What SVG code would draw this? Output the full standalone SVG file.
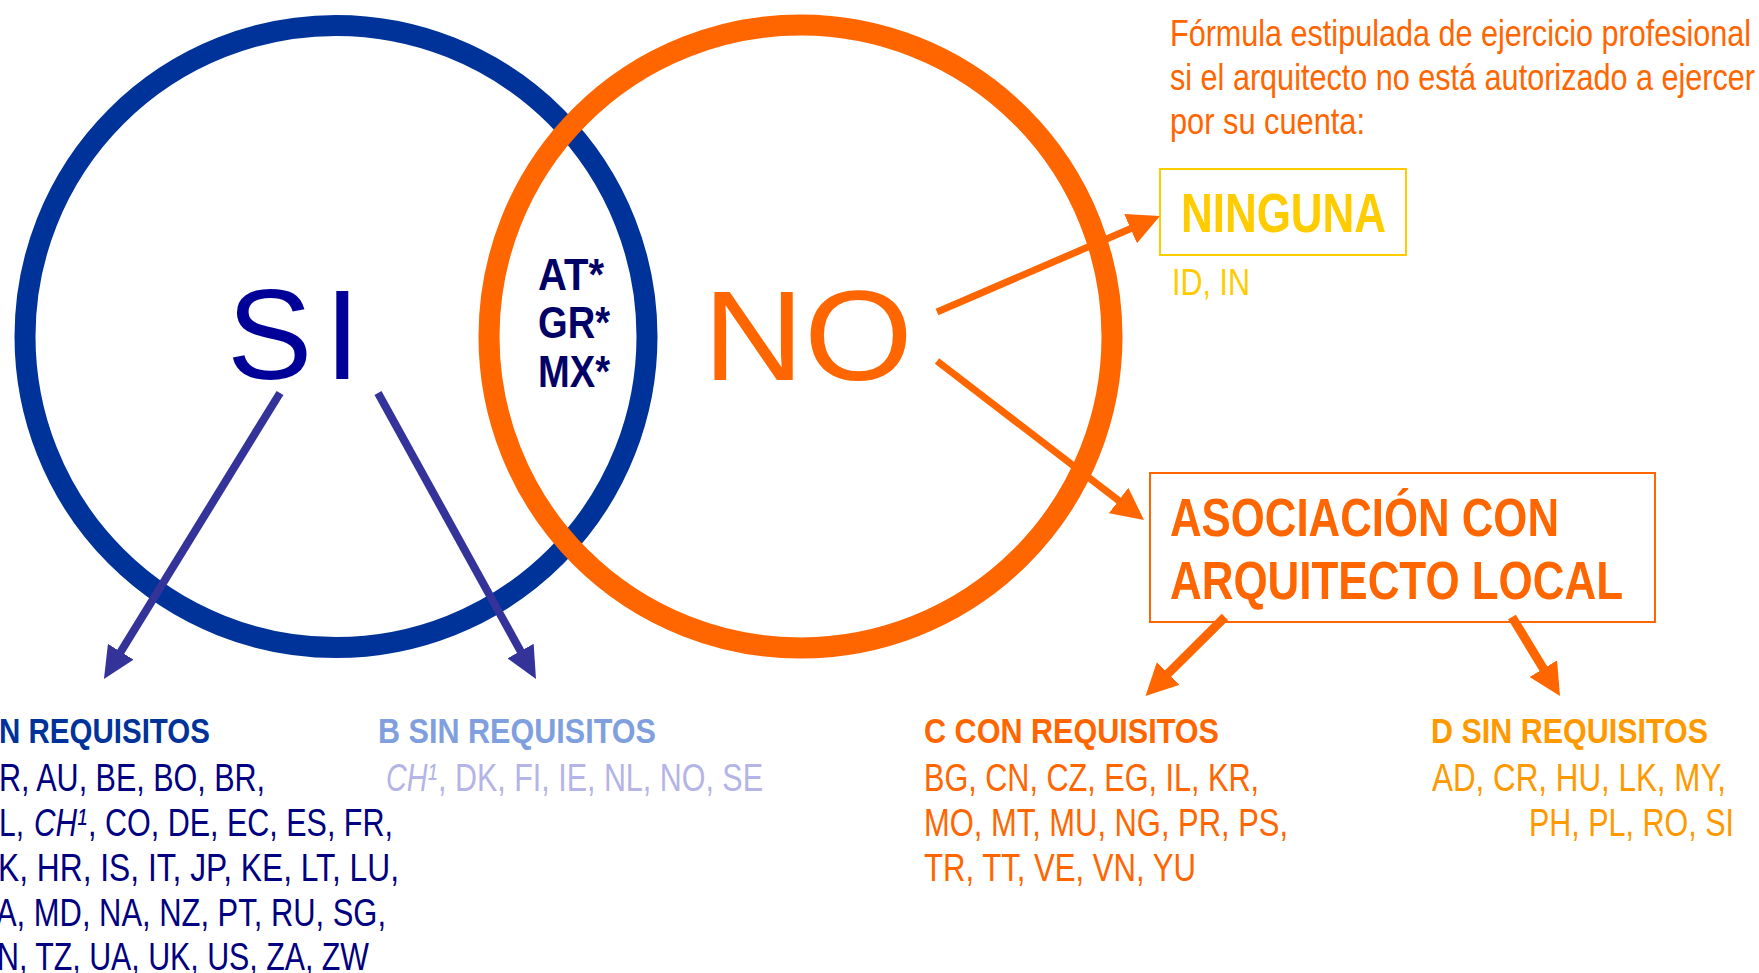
<svg xmlns="http://www.w3.org/2000/svg" width="1759" height="973" viewBox="0 0 1759 973">
<style>
text{font-family:"Liberation Sans",Arial,sans-serif}
.b{font-weight:bold}
.ring{fill:none;stroke-width:21}
.hd{font-size:35px;font-weight:bold}
.ls{font-size:38px}
.it{font-style:italic}
.pur{stroke:#333399;stroke-width:8;fill:none}
.org{stroke:#FF6600;fill:none}
</style>
<defs>
<marker id="ahP" markerUnits="userSpaceOnUse" markerWidth="32" markerHeight="30" viewBox="0 0 32 30" refX="1" refY="15" orient="auto"><path d="M0,0 L32,15 L0,30 z" fill="#333399"/></marker>
<marker id="ahO" markerUnits="userSpaceOnUse" markerWidth="32" markerHeight="32" viewBox="0 0 32 32" refX="1" refY="16" orient="auto"><path d="M0,0 L32,16 L0,32 z" fill="#FF6600"/></marker>
</defs>
<rect width="1759" height="973" fill="#FFFFFF"/>

<g id="circle-si">
<circle class="ring" cx="336" cy="336.5" r="311" stroke="#003399"/>
<text x="227" y="379" font-size="128" letter-spacing="12" fill="#000099">SI</text>
</g>
<g id="circle-no">
<circle class="ring" cx="800.5" cy="336.5" r="311.5" stroke="#FF6600"/>
<text x="703" y="380" font-size="128" textLength="210" lengthAdjust="spacingAndGlyphs" fill="#FF6600">NO</text>
</g>
<g id="intersection" class="b" font-size="45" fill="#000066">
<text x="538" y="290" textLength="66" lengthAdjust="spacingAndGlyphs">AT*</text>
<text x="538" y="338" textLength="72" lengthAdjust="spacingAndGlyphs">GR*</text>
<text x="538" y="387" textLength="72" lengthAdjust="spacingAndGlyphs">MX*</text>
</g>

<g id="title" font-size="37" fill="#FF6600">
<text x="1170" y="46" textLength="581" lengthAdjust="spacingAndGlyphs">Fórmula estipulada de ejercicio profesional</text>
<text x="1170" y="90" textLength="585" lengthAdjust="spacingAndGlyphs">si el arquitecto no está autorizado a ejercer</text>
<text x="1170" y="134" textLength="195" lengthAdjust="spacingAndGlyphs">por su cuenta:</text>
</g>

<g id="ninguna">
<rect x="1160" y="169" width="246" height="86" fill="none" stroke="#FFCC00" stroke-width="2"/>
<text class="b" x="1181" y="232" font-size="55" textLength="205" lengthAdjust="spacingAndGlyphs" fill="#FFCC00">NINGUNA</text>
<text x="1172" y="295" font-size="37" textLength="78" lengthAdjust="spacingAndGlyphs" fill="#FFCC00">ID, IN</text>
</g>

<g id="asociacion">
<rect x="1150" y="473" width="505" height="149" fill="none" stroke="#FF6600" stroke-width="2"/>
<text class="b" x="1170" y="536" font-size="53" textLength="389" lengthAdjust="spacingAndGlyphs" fill="#FF6600">ASOCIACIÓN CON</text>
<text class="b" x="1170" y="599" font-size="53" textLength="453" lengthAdjust="spacingAndGlyphs" fill="#FF6600">ARQUITECTO LOCAL</text>
</g>

<g id="group-a">
<text class="hd" x="-1" y="743" textLength="211" lengthAdjust="spacingAndGlyphs" fill="#003399">N REQUISITOS</text>
<g class="ls" fill="#000080">
<text x="-1" y="791" textLength="266" lengthAdjust="spacingAndGlyphs">R, AU, BE, BO, BR,</text>
<text x="-1" y="836" textLength="25" lengthAdjust="spacingAndGlyphs">L,</text>
<text class="it" x="34" y="836" textLength="53" lengthAdjust="spacingAndGlyphs">CH¹</text>
<text x="88" y="836" textLength="305" lengthAdjust="spacingAndGlyphs">, CO, DE, EC, ES, FR,</text>
<text x="-2" y="881" textLength="401" lengthAdjust="spacingAndGlyphs">K, HR, IS, IT, JP, KE, LT, LU,</text>
<text x="-4" y="926" textLength="390" lengthAdjust="spacingAndGlyphs">A, MD, NA, NZ, PT, RU, SG,</text>
<text x="-3" y="970" textLength="372" lengthAdjust="spacingAndGlyphs">N, TZ, UA, UK, US, ZA, ZW</text>
</g>
</g>

<g id="group-b">
<text class="hd" x="378" y="743" textLength="278" lengthAdjust="spacingAndGlyphs" fill="#7F9FDF">B SIN REQUISITOS</text>
<g class="ls" fill="#B4B4E6">
<text class="it" x="386" y="791" textLength="51" lengthAdjust="spacingAndGlyphs">CH¹</text>
<text x="438" y="791" textLength="325" lengthAdjust="spacingAndGlyphs">, DK, FI, IE, NL, NO, SE</text>
</g>
</g>

<g id="group-c" fill="#FF6600">
<text class="hd" x="924" y="743" textLength="295" lengthAdjust="spacingAndGlyphs">C CON REQUISITOS</text>
<text class="ls" x="924" y="791" textLength="335" lengthAdjust="spacingAndGlyphs">BG, CN, CZ, EG, IL, KR,</text>
<text class="ls" x="924" y="836" textLength="364" lengthAdjust="spacingAndGlyphs">MO, MT, MU, NG, PR, PS,</text>
<text class="ls" x="924" y="881" textLength="272" lengthAdjust="spacingAndGlyphs">TR, TT, VE, VN, YU</text>
</g>

<g id="group-d" fill="#FF9900">
<text class="hd" x="1431" y="743" textLength="277" lengthAdjust="spacingAndGlyphs">D SIN REQUISITOS</text>
<text class="ls" x="1432" y="791" textLength="294" lengthAdjust="spacingAndGlyphs">AD, CR, HU, LK, MY,</text>
<text class="ls" x="1529" y="836" textLength="205" lengthAdjust="spacingAndGlyphs">PH, PL, RO, SI</text>
</g>

<g id="connectors">
<line class="pur" x1="280" y1="393" x2="120.2" y2="652.6" marker-end="url(#ahP)"/>
<line class="pur" x1="378" y1="393" x2="521" y2="651.9" marker-end="url(#ahP)"/>
<line class="org" stroke-width="7" x1="937" y1="312" x2="1131.5" y2="228.3" marker-end="url(#ahO)"/>
<line class="org" stroke-width="7" x1="937" y1="361" x2="1119.4" y2="501.1" marker-end="url(#ahO)"/>
<line class="org" stroke-width="9" x1="1225" y1="617" x2="1167.5" y2="674.1" marker-end="url(#ahO)"/>
<line class="org" stroke-width="9" x1="1512" y1="617" x2="1543.9" y2="669.5" marker-end="url(#ahO)"/>
</g>
</svg>
